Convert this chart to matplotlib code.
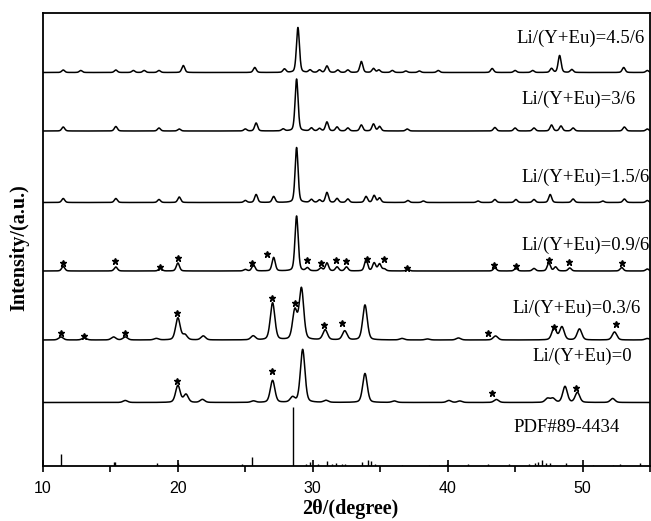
import numpy as np
import matplotlib
matplotlib.use("Agg")
from matplotlib import pyplot as plt

# peak positions (2theta) and heights, one set per pattern
pos_45 = [11.5, 12.8, 15.4, 16.7, 17.5, 18.6, 20.4, 25.7, 27.9, 28.9, 29.8, 30.5, 31.05, 31.85,
          32.6, 33.6, 34.5, 34.9, 35.9, 36.9, 37.9, 39.3, 43.3, 45.0, 46.3, 47.7, 48.3, 49.2, 53.05, 54.8]
amp_45 = [2.5, 2, 2.5, 2, 2, 2, 7, 5, 3.5, 45, 2.5, 2.5, 6.5, 2.5,
          2.5, 11, 4, 2.5, 2, 1.5, 1.5, 2, 4, 2, 2, 4, 17, 3, 5, 2]

pos_30 = [11.5, 15.4, 18.6, 20.1, 25.0, 25.8, 27.8, 28.8, 29.9, 30.5, 31.05, 31.8, 32.6, 33.6,
          34.5, 34.95, 37.0, 43.5, 45.0, 46.4, 47.7, 48.4, 49.3, 53.1, 54.8]
amp_30 = [4, 4.5, 3, 2, 2, 8, 2, 52, 3, 2.5, 9, 4, 3, 6,
          7, 4.5, 2, 3.5, 3, 3, 6, 5, 3, 4, 2]

pos_15 = [11.5, 15.4, 18.6, 20.1, 25.0, 25.8, 27.1, 28.8, 29.9, 30.5, 31.05, 31.8, 32.6, 33.95,
          34.55, 34.95, 37.05, 38.2, 42.25, 43.5, 45.06, 46.4, 47.6, 49.3, 51.5, 53.1, 54.8]
amp_15 = [4, 4, 3, 5.5, 2, 8, 6, 55, 3, 2.5, 10, 4, 3.5, 6,
          7, 4.5, 2, 1.5, 1.5, 3, 3, 3, 8, 3.5, 1.5, 3.5, 2]

pos_09 = [11.5, 15.4, 18.7, 20.0, 25.0, 25.6, 27.1, 28.8, 29.6, 30.6, 31.05, 31.8, 32.5, 33.95,
          34.55, 34.95, 35.3, 37.05, 43.5, 45.06, 46.4, 47.5, 48.0, 49.05, 52.9, 54.8]
amp_09 = [4.5, 4, 3, 8, 1.5, 6, 13.5, 55, 3, 3, 8, 4, 4, 11,
          8, 7, 2, 1.5, 3, 2.5, 2.5, 8, 4, 3, 3.5, 2]

pos_03 = [11.33, 13.06, 15.23, 16.1, 18.4, 20.0, 20.52, 21.88, 25.58, 27.02, 28.67, 29.16, 30.92,
          32.37, 33.87, 36.62, 38.5, 40.8, 43.55, 47.89, 48.47, 49.77, 52.37, 54.8]
amp_03 = [3, 2, 3, 3, 1.5, 22, 5, 4, 4, 37, 29, 51, 10,
          9, 35, 1.5, 1, 2, 4, 12, 13, 11, 8, 1.5]

pos_00 = [16.1, 20.0, 20.6, 21.82, 25.6, 27.02, 28.5, 29.25, 30.98, 33.87, 36.04, 40.09, 40.9,
          43.61, 47.4, 47.8, 48.7, 49.62, 52.23]
amp_00 = [2, 17, 8, 3, 1.5, 22, 5, 53, 2, 29, 1.5, 2, 1.5,
          3, 4, 4, 16, 10, 4]

# standard card PDF#89-4434 sticks
pdf_pos = [11.33, 15.23, 15.32, 18.47, 20.0, 24.77, 25.49, 28.55, 29.48, 29.83, 30.4, 31.04, 31.42,
           31.7, 32.14, 32.4, 33.67, 34.1, 34.3, 34.6, 36.6, 38.64, 39.94, 41.53, 42.98, 44.57,
           46.01, 46.45, 46.73, 47.02, 47.31, 47.6, 48.76, 50.78, 52.23, 52.8, 54.25]
pdf_int = [12, 4, 4, 3, 3, 2, 9, 59, 2.5, 4, 2, 5, 2,
           3, 2, 2, 4, 6, 5, 2, 1.5, 1.5, 2, 2, 2, 2,
           2.5, 3, 4, 6, 3, 3, 3, 1.5, 1.5, 2, 3]

# impurity marks (*) : position and height above the pattern baseline
star_x_09 = [11.5, 15.35, 18.7, 20.0, 25.5, 26.6, 29.55, 30.6, 31.75, 32.45, 34.0, 35.3, 37.0,
             43.4, 45.1, 47.5, 49.0, 52.9]
star_y_09 = [8, 10, 4, 13, 8, 17, 11, 8, 11, 10, 12, 12, 3, 6, 5, 11, 9, 8]
star_x_03 = [11.33, 13.06, 16.1, 19.95, 26.95, 28.65, 30.8, 32.2, 43.0, 47.9, 52.5]
star_y_03 = [7, 4, 7, 27, 42, 37, 15, 17, 7, 13, 16]
star_x_00 = [19.95, 27.0, 43.3, 49.55]
star_y_00 = [22, 32, 10, 15]

labels = ["Li/(Y+Eu)=4.5/6", "Li/(Y+Eu)=3/6", "Li/(Y+Eu)=1.5/6", "Li/(Y+Eu)=0.9/6",
          "Li/(Y+Eu)=0.3/6", "Li/(Y+Eu)=0"]
pdf_label = "PDF#89-4434"


def profile(x, pos, amp, hw):
    # pseudo-Voigt peak shape at the read positions
    y = np.zeros_like(x)
    for p, a in zip(pos, amp):
        d = (x - p) / hw
        y += a * (0.7 * np.exp(-np.log(2) * d ** 2) + 0.3 / (1 + d ** 2))
    return y


def main():
    fig = plt.figure(figsize=(6.51, 5.21), dpi=100)
    ax = fig.add_axes([43 / 651, 55 / 521, 607 / 651, 453 / 521])

    x = np.linspace(10, 55, 4000)
    patterns = [(pos_45, amp_45), (pos_30, amp_30), (pos_15, amp_15),
                (pos_09, amp_09), (pos_03, amp_03), (pos_00, amp_00)]
    offsets = [393.5, 335, 263.5, 195, 126, 63.5]
    widths = [0.13, 0.13, 0.13, 0.14, 0.2, 0.2]
    for (pos, amp), off, hw in zip(patterns, offsets, widths):
        ax.plot(x, off + profile(x, pos, amp, hw), color="black", lw=1.1)

    ax.vlines(pdf_pos, 0, pdf_int, color="black", lw=1.0)

    for sx, sy, off in [(star_x_09, star_y_09, 195), (star_x_03, star_y_03, 126),
                        (star_x_00, star_y_00, 63.5)]:
        ax.plot(sx, [off + v for v in sy], ls="none", marker="*", ms=4.5,
                color="black", mec="black")

    label_x = [45.11, 45.46, 45.46, 45.46, 44.79, 46.3]
    label_y = [428, 367, 289, 221, 158, 110]
    for txt, lx, ly in zip(labels, label_x, label_y):
        ax.text(lx, ly, txt, ha="left", va="center", fontsize=13.5,
                family="Liberation Serif")
    ax.text(44.91, 38, pdf_label, ha="left", va="center", fontsize=13.5,
            family="Liberation Serif")

    ax.set_xlim(10, 55)
    ax.set_ylim(0, 453)
    ax.set_xticks([10, 20, 30, 40, 50])
    ax.set_xticks([15, 25, 35, 45, 55], minor=True)
    ax.set_yticks([])
    ax.tick_params(axis="x", which="major", direction="inout", length=8, width=1.2,
                   labelsize=11.5, pad=7)
    ax.tick_params(axis="x", which="minor", direction="out", length=4, width=1.2)
    for lab in ax.get_xticklabels():
        lab.set_family("Liberation Sans")
    for s in ax.spines.values():
        s.set_linewidth(1.3)

    ax.set_xlabel("2θ/(degree)", fontsize=14.5, fontweight="bold", family="Liberation Serif")
    ax.xaxis.set_label_coords(0.507, -0.073)
    ax.set_ylabel("Intensity/(a.u.)", fontsize=14.5, fontweight="bold", family="Liberation Serif")
    ax.yaxis.set_label_coords(-0.022, 0.483)

    fig.savefig("out.png", dpi=100)


if __name__ == "__main__":
    main()
